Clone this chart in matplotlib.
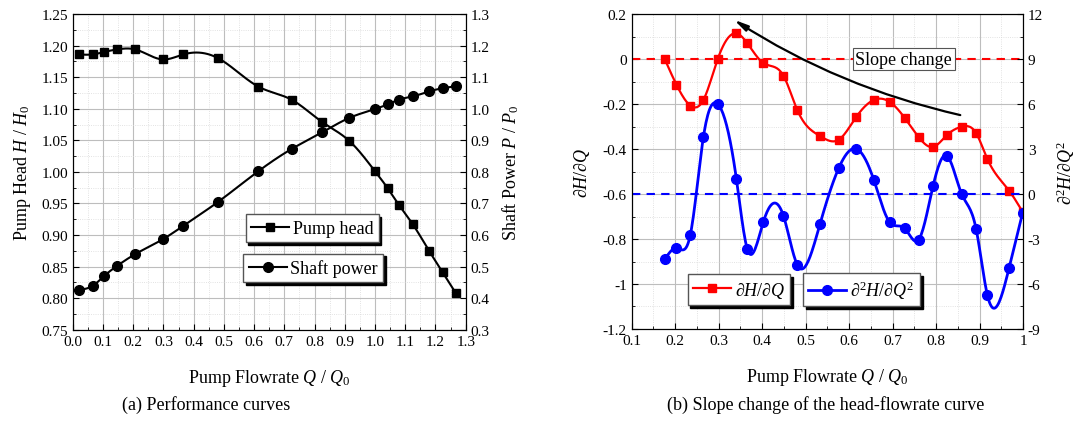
import numpy as np
import matplotlib
matplotlib.use("Agg")
import matplotlib.pyplot as plt
from matplotlib.ticker import MultipleLocator

# -----------------------------------------------
# Data
# -----------------------------------------------
# (a) performance curves
q_head = [0.022, 0.066, 0.105, 0.148, 0.206, 0.299, 0.366, 0.481, 0.614, 0.725,
          0.825, 0.915, 1.000, 1.042, 1.080, 1.125, 1.180, 1.224, 1.267]
head = [1.186, 1.186, 1.190, 1.194, 1.194, 1.178, 1.186, 1.180, 1.135, 1.114,
        1.079, 1.049, 1.001, 0.974, 0.947, 0.917, 0.874, 0.841, 0.808]
q_power = q_head
power = [0.426, 0.439, 0.471, 0.503, 0.539, 0.587, 0.629, 0.705, 0.802, 0.873,
         0.925, 0.971, 0.999, 1.014, 1.029, 1.039, 1.055, 1.065, 1.071]

# (b) slope change
q_slope = [0.176, 0.203, 0.235, 0.265, 0.298, 0.341, 0.366, 0.403, 0.449, 0.481,
           0.533, 0.576, 0.616, 0.657, 0.693, 0.728, 0.760, 0.793, 0.825, 0.859,
           0.892, 0.918, 0.968, 0.999]
dHdQ = [0.0, -0.114, -0.207, -0.182, 0.0, 0.114, 0.070, -0.018, -0.074, -0.227,
        -0.342, -0.359, -0.259, -0.182, -0.190, -0.262, -0.347, -0.391, -0.338, -0.301,
        -0.329, -0.444, -0.585, -0.679]
d2HdQ2 = [-4.36, -3.60, -2.71, 3.80, 6.00, 0.98, -3.67, -1.85, -1.45, -4.73,
          -2.02, 1.71, 3.02, 0.93, -1.87, -2.29, -3.05, 0.51, 2.55, 0.0,
          -2.31, -6.73, -4.93, -1.27]

SERIF = "Liberation Serif"
plt.rcParams["font.family"] = [SERIF, "DejaVu Serif"]
plt.rcParams["mathtext.fontset"] = "custom"
plt.rcParams["mathtext.rm"] = SERIF
plt.rcParams["mathtext.it"] = SERIF + ":italic"
plt.rcParams["xtick.direction"] = "in"
plt.rcParams["ytick.direction"] = "in"


def smooth(x, y, n=400):
    # natural cubic spline, only used to draw the connecting line
    x = np.asarray(x, float)
    y = np.asarray(y, float)
    m = len(x)
    h = np.diff(x)
    A = np.zeros((m, m))
    b = np.zeros(m)
    A[0, 0] = A[-1, -1] = 1
    for i in range(1, m - 1):
        A[i, i - 1] = h[i - 1]
        A[i, i] = 2 * (h[i - 1] + h[i])
        A[i, i + 1] = h[i]
        b[i] = 6 * ((y[i + 1] - y[i]) / h[i] - (y[i] - y[i - 1]) / h[i - 1])
    M = np.linalg.solve(A, b)
    xs = np.linspace(x[0], x[-1], n)
    idx = np.clip(np.searchsorted(x, xs) - 1, 0, m - 2)
    x0, x1 = x[idx], x[idx + 1]
    hh = x1 - x0
    ys = (M[idx] * (x1 - xs) ** 3 / (6 * hh) + M[idx + 1] * (xs - x0) ** 3 / (6 * hh)
          + (y[idx] / hh - M[idx] * hh / 6) * (x1 - xs)
          + (y[idx + 1] / hh - M[idx + 1] * hh / 6) * (xs - x0))
    return xs, ys


def style_grid(ax):
    ax.grid(True, which="major", color="#bdbdbd", lw=0.8)
    ax.grid(True, which="minor", color="#d9d9d9", lw=0.6, ls=":")
    ax.set_axisbelow(True)


SHADOW = {"color": "black", "alpha": 1.0}
LEG = dict(frameon=True, fancybox=False, shadow=SHADOW, borderaxespad=0,
           fontsize=13, handlelength=2.1, handletextpad=0.2, borderpad=0.3,
           edgecolor="#555555", framealpha=1)

fig = plt.figure(figsize=(10.79, 4.39), dpi=100)

# -----------------------------------------------
# (a) Performance curves
# -----------------------------------------------
ax = fig.add_axes([0.0674, 0.2467, 0.3642, 0.7191])
ax2 = ax.twinx()

xs, ys = smooth(q_head, head)
ax.plot(xs, ys, color="black", lw=1.5)
ax.plot(q_head, head, ls="none", marker="s", ms=6, color="black")
xs, ys = smooth(q_power, power)
ax2.plot(xs, ys, color="black", lw=1.5)
ax2.plot(q_power, power, ls="none", marker="o", ms=7, color="black")

ax.set_xlim(0, 1.3)
ax.set_ylim(0.75, 1.25)
ax2.set_ylim(0.3, 1.3)
ax.xaxis.set_major_locator(MultipleLocator(0.1))
ax.xaxis.set_minor_locator(MultipleLocator(0.05))
ax.yaxis.set_major_locator(MultipleLocator(0.05))
ax.yaxis.set_minor_locator(MultipleLocator(0.025))
ax2.yaxis.set_major_locator(MultipleLocator(0.1))
ax2.yaxis.set_minor_locator(MultipleLocator(0.05))
ax.xaxis.set_major_formatter(plt.FormatStrFormatter("%.1f"))
ax.yaxis.set_major_formatter(plt.FormatStrFormatter("%.2f"))
ax2.yaxis.set_major_formatter(plt.FormatStrFormatter("%.1f"))
style_grid(ax)
for a in (ax, ax2):
    a.tick_params(labelsize=11, length=4, width=0.8)
    a.tick_params(which="minor", length=2.5, width=0.6)
ax.tick_params(top=False, right=False)

ax.set_xlabel("Pump Flowrate $Q$ / $Q_0$", fontsize=13, labelpad=14)
ax.set_ylabel("Pump Head $H$ / $H_0$", fontsize=13, labelpad=6)
ax2.set_ylabel("Shaft Power $P$ / $P_0$", fontsize=13, labelpad=8)

# line+marker legend handles
lh1, = ax.plot([], [], color="black", lw=1.5, marker="s", ms=6)
lh2, = ax.plot([], [], color="black", lw=1.5, marker="o", ms=7)
leg1 = ax2.legend([lh1], ["Pump head"], loc="lower left",
                  bbox_to_anchor=(0.44, 0.277), **LEG)
ax2.add_artist(leg1)
ax2.legend([lh2], ["Shaft power"], loc="lower left",
           bbox_to_anchor=(0.434, 0.150), **LEG)

# -----------------------------------------------
# (b) Slope change of the head-flowrate curve
# -----------------------------------------------
bx = fig.add_axes([0.5854, 0.2483, 0.3627, 0.7175])
bx2 = bx.twinx()

bx.axhline(0, color="red", ls="--", lw=1.5, dashes=(4, 3))
bx2.axhline(0, color="blue", ls="--", lw=1.5, dashes=(4, 3))

xs, ys = smooth(q_slope, dHdQ)
bx.plot(xs, ys, color="red", lw=1.6)
bx.plot(q_slope, dHdQ, ls="none", marker="s", ms=6, color="red")
xs, ys = smooth(q_slope, d2HdQ2)
bx2.plot(xs, ys, color="blue", lw=2)
bx2.plot(q_slope, d2HdQ2, ls="none", marker="o", ms=7, color="blue")

bx.set_xlim(0.1, 1.0)
bx.set_ylim(-1.2, 0.2)
bx2.set_ylim(-9, 12)
bx.xaxis.set_major_locator(MultipleLocator(0.1))
bx.xaxis.set_minor_locator(MultipleLocator(0.05))
bx.yaxis.set_major_locator(MultipleLocator(0.2))
bx.yaxis.set_minor_locator(MultipleLocator(0.1))
bx2.yaxis.set_major_locator(MultipleLocator(3))
bx2.yaxis.set_minor_locator(MultipleLocator(1.5))
fmt = plt.FuncFormatter(lambda v, p: "%g" % round(v, 2))
bx.xaxis.set_major_formatter(fmt)
bx.yaxis.set_major_formatter(fmt)
bx2.yaxis.set_major_formatter(fmt)
style_grid(bx)
for a in (bx, bx2):
    a.tick_params(labelsize=11, length=4, width=0.8)
    a.tick_params(which="minor", length=2.5, width=0.6)

bx.set_xlabel("Pump Flowrate $Q$ / $Q_0$", fontsize=13, labelpad=14)
bx.set_ylabel("\u2202$H$/\u2202$Q$", fontsize=13, labelpad=8)
bx2.set_ylabel("\u2202$^2H$/\u2202$Q^2$", fontsize=13, labelpad=8)

bx.annotate("", xy=(0.33, 0.181), xytext=(0.862, -0.252),
            arrowprops=dict(arrowstyle="-|>,head_length=0.8,head_width=0.18",
                            color="black", lw=1.6,
                            connectionstyle="arc3,rad=-0.09"))
bx.text(0.726, 0.0, "Slope change", fontsize=13, ha="center", va="center",
        bbox=dict(boxstyle="square,pad=0.15", fc="white", ec="#555555", lw=0.8),
        zorder=5)

lr, = bx.plot([], [], color="red", lw=1.6, marker="s", ms=6)
lb, = bx.plot([], [], color="blue", lw=2, marker="o", ms=7)
leg3 = bx2.legend([lr], ["\u2202$H$/\u2202$Q$"], loc="lower left",
                  bbox_to_anchor=(0.143, 0.076), **LEG)
bx2.add_artist(leg3)
bx2.legend([lb], ["\u2202$^2H$/\u2202$Q^2$"], loc="lower left",
           bbox_to_anchor=(0.438, 0.072), **LEG)

fig.text(0.191, 0.077, "(a) Performance curves", ha="center", va="center", fontsize=13)
fig.text(0.765, 0.077, "(b) Slope change of the head-flowrate curve",
         ha="center", va="center", fontsize=13)

fig.savefig("out.png", dpi=100)
